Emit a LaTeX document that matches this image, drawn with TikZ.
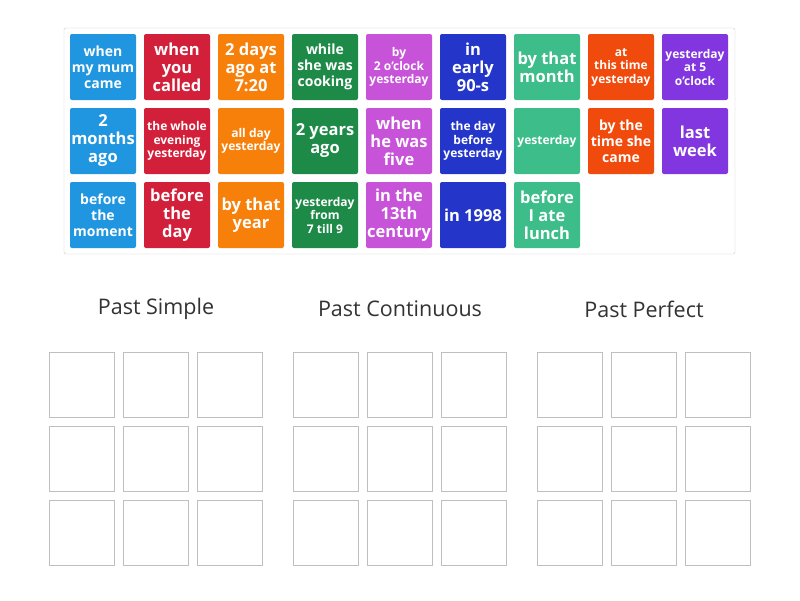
\documentclass[tikz,border=0pt]{standalone}
\usepackage{fontspec}
\setmainfont{Open Sans}
\definecolor{cB}{HTML}{2196E0}\definecolor{cR}{HTML}{D3203A}\definecolor{cO}{HTML}{F7800A}
\definecolor{cG}{HTML}{1E8A48}\definecolor{cM}{HTML}{C653D8}\definecolor{cN}{HTML}{2336C9}
\definecolor{cT}{HTML}{3DBD8A}\definecolor{cE}{HTML}{F04A0C}\definecolor{cP}{HTML}{8236E0}
\begin{document}
\begin{tikzpicture}[x=1pt,y=-1pt,
 tile/.style={minimum width=66pt,minimum height=66pt,inner sep=0pt,rounded corners=2pt,text=white,align=center,font=\bfseries},
 L/.style={font=\fontsize{16.5}{18}\selectfont\bfseries},
 M/.style={font=\fontsize{14}{16}\selectfont\bfseries},
 S/.style={font=\fontsize{12}{13.5}\selectfont\bfseries},
 slot/.style={draw=black!25,minimum width=65pt,minimum height=65pt},
 head/.style={font=\fontsize{21.5}{24}\selectfont,text=black!80}]
\useasboundingbox[fill=white] (0,0) rectangle (800,600);
\node[draw=black!20,rounded corners=2pt,minimum width=671pt,minimum height=226pt] (frame) at (399.5,141) {};
\foreach \t/\c/\s [count=\i from 0] in {
 {when\\my mum\\came}/cB/M, {when\\you\\called}/cR/L, {2 days\\ago at\\7:20}/cO/L, {while\\she was\\cooking}/cG/M,
 {by\\2 o'clock\\yesterday}/cM/S, {in\\early\\90-s}/cN/L, {by that\\month}/cT/L, {at\\this time\\yesterday}/cE/S, {yesterday\\at 5\\o'clock}/cP/S,
 {2\\months\\ago}/cB/L, {the whole\\evening\\yesterday}/cR/S, {all day\\yesterday}/cO/S, {2 years\\ago}/cG/L,
 {when\\he was\\five}/cM/L, {the day\\before\\yesterday}/cN/S, {yesterday}/cT/S, {by the\\time she\\came}/cE/M, {last\\week}/cP/L,
 {before\\the\\moment}/cB/M, {before\\the\\day}/cR/L, {by that\\year}/cO/L, {yesterday\\from\\7 till 9}/cG/S,
 {in the\\13th\\century}/cM/L, {in 1998}/cN/L, {before\\I ate\\lunch}/cT/L}{
 \pgfmathtruncatemacro\r{\i<9?0:(\i<18?1:2)}
 \pgfmathtruncatemacro\cc{\i-9*\r}
 \node[tile,fill=\c,\s] (t\i) at (103+74*\cc,67+74*\r) {\t};
}
\foreach \h/\x [count=\g] in {Past Simple/156,Past Continuous/400,Past Perfect/644}{
 \node[head] (h\g) at (\x,309) {\h};
 \foreach \a in {0,1,2}{\foreach \b in {0,1,2}{
  \node[slot] (s\g\a\b) at (\x-74+74*\a,385+74*\b) {};}}
}
\end{tikzpicture}
\end{document}
